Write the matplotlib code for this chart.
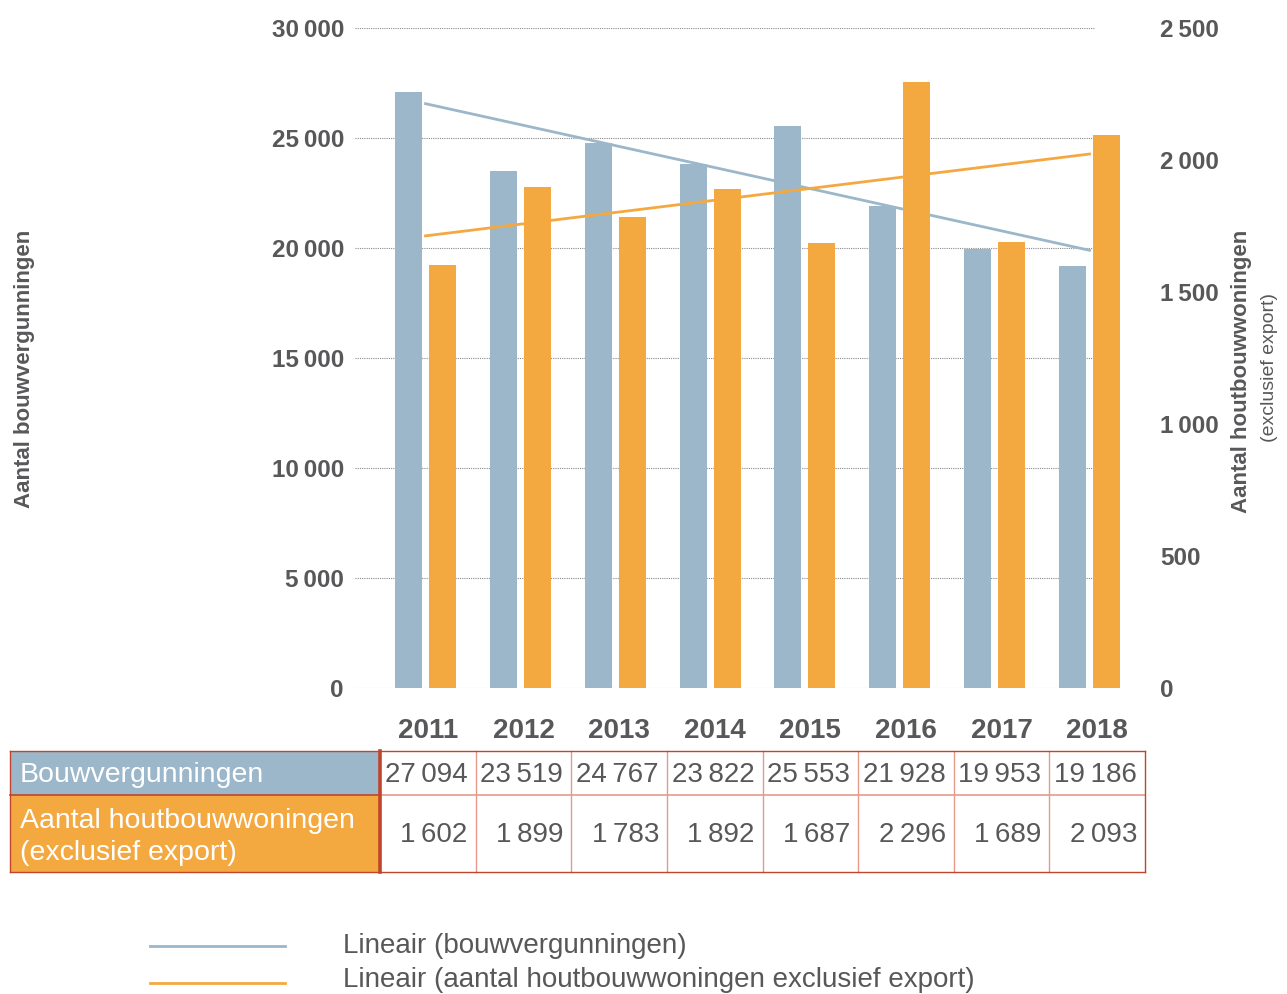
import numpy as np
import matplotlib.pyplot as plt
from matplotlib.patches import Rectangle
from matplotlib.lines import Line2D

years = ['2011', '2012', '2013', '2014', '2015', '2016', '2017', '2018']
vergunningen = [27094, 23519, 24767, 23822, 25553, 21928, 19953, 19186]
houtbouw = [1602, 1899, 1783, 1892, 1687, 2296, 1689, 2093]
left_ticks = [0, 5000, 10000, 15000, 20000, 25000, 30000]
right_ticks = [0, 500, 1000, 1500, 2000, 2500]

blue = '#9bb7c9'
orange = '#f4a940'
grey = '#58585a'
red = '#c0452c'
red_light = '#e59a8c'

plt.rcParams['font.family'] = ['Liberation Sans', 'DejaVu Sans']

W, H = 1287, 994
fig = plt.figure(figsize=(W / 100, H / 100), dpi=100)


def fx(px):
    return px / W


def fy(py):
    return 1 - py / H


def fmt(v):
    return f'{v:,}'.replace(',', '\u2009')


# axes in pixel frame: left 355, right 1145, top 28, bottom 688
ax = fig.add_axes([fx(355), fy(688), fx(1145) - fx(355), fy(28) - fy(688)])
ax2 = ax.twinx()

x = np.arange(len(years))
x0, step = 425.5, 94.86
xlim = ((355 - x0) / step, (1145 - x0) / step)
bw = 27 / step
off = 17 / step

ax.bar(x - off, vergunningen, width=bw, color=blue, zorder=2)
ax2.bar(x + off, houtbouw, width=bw, color=orange, zorder=2)

# linear trends
p1 = np.polyfit(x, vergunningen, 1)
p2 = np.polyfit(x, houtbouw, 1)
ax.plot(x, np.polyval(p1, x), color=blue, lw=2, zorder=3)
ax2.plot(x, np.polyval(p2, x), color=orange, lw=2, zorder=3)

for t in left_ticks:
    ax.axhline(t, xmin=0, xmax=(1095 - 355) / 790, color='#8a8a8a', lw=0.8,
               ls=(0, (1, 1)), zorder=1)

for a in (ax, ax2):
    a.set_xlim(*xlim)
    for s in a.spines.values():
        s.set_visible(False)
    a.set_xticks([])
ax.set_ylim(0, 30000)
ax2.set_ylim(0, 2500)
ax.set_yticks(left_ticks)
ax.set_yticklabels([fmt(t) for t in left_ticks])
ax2.set_yticks(right_ticks)
ax2.set_yticklabels([fmt(t) for t in right_ticks])
ax.tick_params(axis='y', length=0, pad=8, labelsize=17.5, labelcolor=grey)
ax2.tick_params(axis='y', length=0, pad=11, labelsize=17.5, labelcolor=grey)
for lab in ax.get_yticklabels() + ax2.get_yticklabels():
    lab.set_fontweight('bold')
ax2.set_zorder(ax.get_zorder() + 1)

fig.text(fx(25), fy(369), 'Aantal bouwvergunningen', rotation=90, ha='center',
         va='center', fontsize=16, fontweight='bold', color=grey)
fig.text(fx(1241), fy(371), 'Aantal houtbouwwoningen', rotation=90, ha='center',
         va='center', fontsize=16, fontweight='bold', color=grey)
fig.text(fx(1270), fy(368), '(exclusief export)', rotation=90, ha='center',
         va='center', fontsize=14, color=grey)

# table below the chart
tx0, tx1 = 380, 1145
colw = (tx1 - tx0) / len(years)
r0, r1, r2 = 751, 795, 872

for i, yr in enumerate(years):
    fig.text(fx(tx0 + colw * (i + 0.5)), fy(731), yr, ha='center', va='center',
             fontsize=20, fontweight='bold', color=grey)

fig.patches.append(Rectangle((fx(10), fy(r1)), fx(tx0) - fx(10), fy(r0) - fy(r1),
                             transform=fig.transFigure, facecolor=blue,
                             edgecolor='none'))
fig.patches.append(Rectangle((fx(10), fy(r2)), fx(tx0) - fx(10), fy(r1) - fy(r2),
                             transform=fig.transFigure, facecolor=orange,
                             edgecolor='none'))

def hline(py, xa, xb, c, lw):
    fig.add_artist(Line2D([fx(xa), fx(xb)], [fy(py), fy(py)], color=c, lw=lw))


def vline(px, ya, yb, c, lw):
    fig.add_artist(Line2D([fx(px), fx(px)], [fy(ya), fy(yb)], color=c, lw=lw))


for i in range(1, len(years)):
    vline(tx0 + colw * i, r0, r2, red_light, 1)
hline(r1, tx0, tx1, red_light, 1.2)
hline(r1, 10, tx0, red, 1.2)
hline(r0, 10, tx1, red, 1)
hline(r2, 10, tx1, red, 1)
vline(10, r0, r2, red, 1)
vline(tx1, r0, r2, red, 1)
vline(tx0, r0, r2, red, 2.6)

fig.text(fx(20), fy((r0 + r1) / 2 + 2), 'Bouwvergunningen', ha='left', va='center',
         fontsize=20.5, color='white')
fig.text(fx(20), fy((r1 + r2) / 2 + 3), 'Aantal houtbouwwoningen\n(exclusief export)',
         ha='left', va='center', fontsize=20.5, color='white', linespacing=1.3)

for i in range(len(years)):
    cx = tx0 + colw * (i + 1) - 8
    fig.text(fx(cx), fy((r0 + r1) / 2 + 2), fmt(vergunningen[i]), ha='right',
             va='center', fontsize=20, color=grey)
    fig.text(fx(cx), fy((r1 + r2) / 2 + 2), fmt(houtbouw[i]), ha='right',
             va='center', fontsize=20, color=grey)

# legend
fig.add_artist(Line2D([fx(150), fx(285)], [fy(946), fy(946)], color=blue, lw=2))
fig.add_artist(Line2D([fx(150), fx(285)], [fy(983), fy(983)], color=orange, lw=2))
fig.text(fx(343), fy(946), 'Lineair (bouwvergunningen)', ha='left', va='center',
         fontsize=20, color=grey)
fig.text(fx(343), fy(980), 'Lineair (aantal houtbouwwoningen exclusief export)',
         ha='left', va='center', fontsize=20, color=grey)

fig.savefig('out.png', dpi=100)
